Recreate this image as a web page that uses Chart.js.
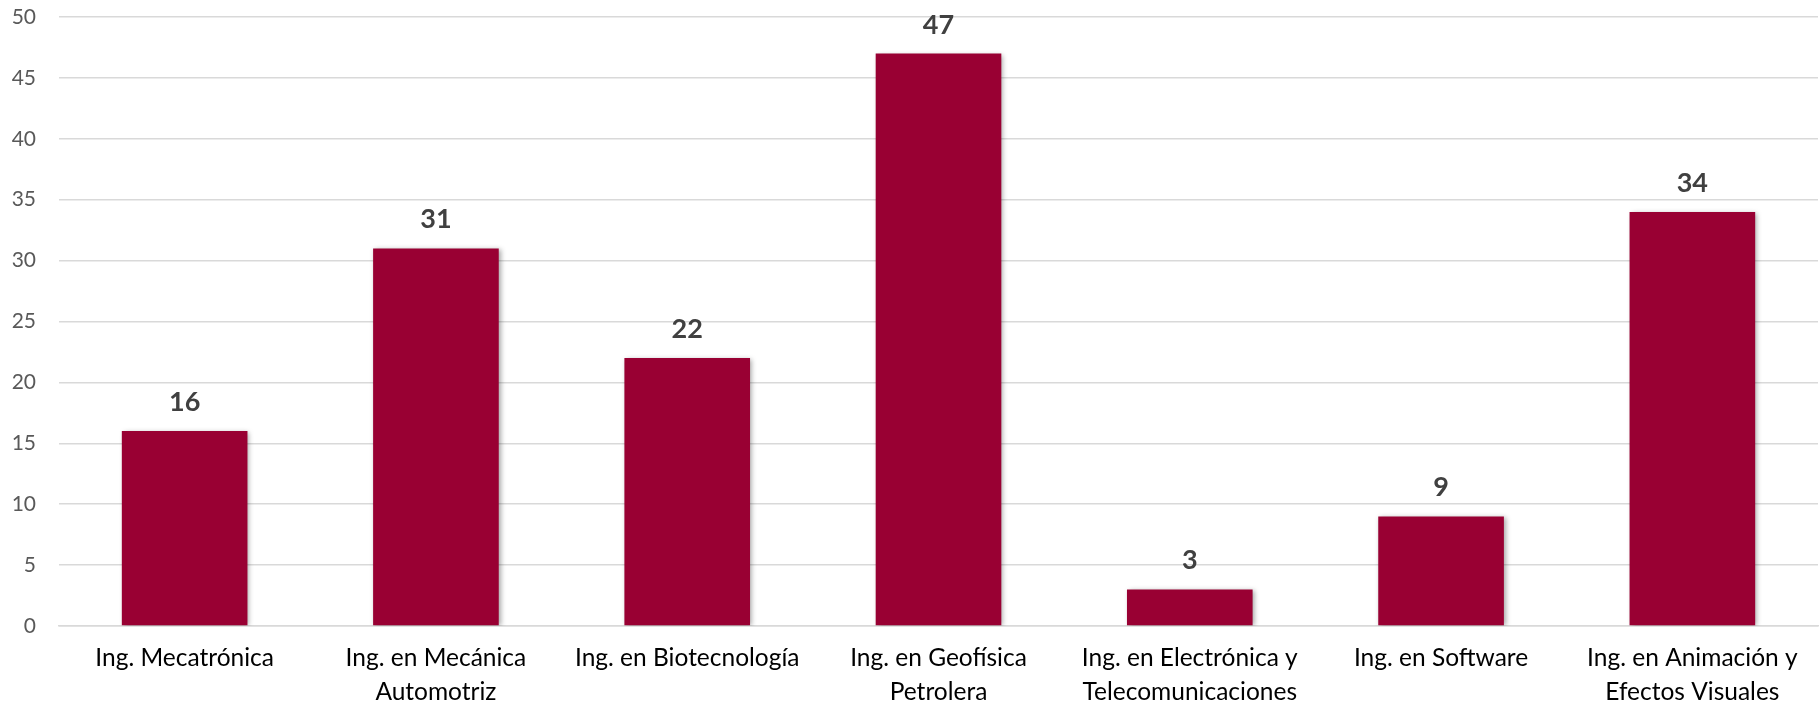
<!DOCTYPE html>
<html>
<head>
<meta charset="utf-8">
<script src="https://cdn.jsdelivr.net/npm/chart.js@4"></script>
<style>
  html, body { margin: 0; padding: 0; background: #fff; }
  #wrap { width: 1820px; height: 705px; }
</style>
</head>
<body>
<div id="wrap"><canvas id="chart"></canvas></div>
<script>
// ─── Data ───────────────────────────────────────────────────────────────────

const categories = [
  "Ing. Mecatrónica",
  ["Ing. en Mecánica", "Automotriz"],
  "Ing. en Biotecnología",
  ["Ing. en Geofísica", "Petrolera"],
  ["Ing. en Electrónica y", "Telecomunicaciones"],
  "Ing. en Software",
  ["Ing. en Animación y", "Efectos Visuales"],
];
const values = [16, 31, 22, 47, 3, 9, 34];
const yTicks = [0, 5, 10, 15, 20, 25, 30, 35, 40, 45, 50];

const FONT = "Lato, 'Open Sans', sans-serif";

// ─── Plugins ────────────────────────────────────────────────────────────────

const barShadow = {
  id: "barShadow",
  beforeDatasetsDraw(chart) {
    const ctx = chart.ctx;
    ctx.save();
    ctx.shadowColor = "rgba(0,0,0,0.35)";
    ctx.shadowBlur = 5;
    ctx.shadowOffsetX = 2;
    ctx.shadowOffsetY = 1;
  },
  afterDatasetsDraw(chart) {
    chart.ctx.restore();
  },
};

const valueLabels = {
  id: "valueLabels",
  afterDatasetsDraw(chart) {
    const ctx = chart.ctx;
    const meta = chart.getDatasetMeta(0);
    ctx.save();
    ctx.font = `bold 27px ${FONT}`;
    ctx.fillStyle = "#404040";
    ctx.textAlign = "center";
    ctx.textBaseline = "alphabetic";
    meta.data.forEach((bar, i) => {
      ctx.fillText(String(values[i]), bar.x, bar.y - 20);
    });
    ctx.restore();
  },
};

// ─── Chart ──────────────────────────────────────────────────────────────────

new Chart(document.getElementById("chart").getContext("2d"), {
  type: "bar",
  data: {
    labels: categories,
    datasets: [
      {
        data: values,
        backgroundColor: "#990033",
        borderWidth: 0,
        barPercentage: 0.5,
        categoryPercentage: 1,
      },
    ],
  },
  options: {
    responsive: true,
    maintainAspectRatio: false,
    animation: false,
    layout: { padding: { top: 17, right: 2, left: 0, bottom: 0 } },
    plugins: {
      legend: { display: false },
      tooltip: { enabled: false },
    },
    scales: {
      x: {
        grid: { display: false },
        border: { display: true, color: "#d9d9d9", width: 1.5 },
        ticks: {
          color: "#000000",
          font: { family: FONT, size: 24.5, lineHeight: 1.35 },
          padding: 8,
          maxRotation: 0,
          autoSkip: false,
        },
        afterFit: (s) => {
          s.height = 79;
          s.paddingLeft = 0;
          s.paddingRight = 0;
        },
      },
      y: {
        min: 0,
        max: 50,
        afterBuildTicks: (s) => { s.ticks = yTicks.map((v) => ({ value: v })); },
        grid: { color: "#d9d9d9", lineWidth: 1.5, drawTicks: false },
        border: { display: false },
        ticks: {
          color: "#595959",
          font: { family: FONT, size: 21 },
          padding: 23,
        },
        afterFit: (s) => {
          s.width = 59;
          s.paddingTop = 0;
          s.paddingBottom = 0;
        },
      },
    },
  },
  plugins: [barShadow, valueLabels],
});
</script>
</body>
</html>
